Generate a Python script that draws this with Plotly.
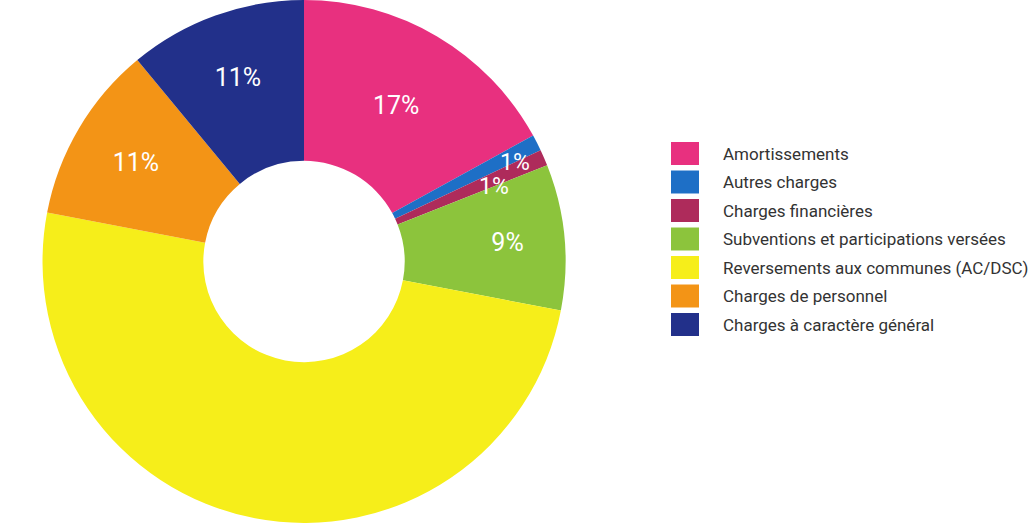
import math
import plotly.graph_objects as go

# Répartition des dépenses (en %)
categories = [
    "Amortissements",
    "Autres charges",
    "Charges financières",
    "Subventions et participations versées",
    "Reversements aux communes (AC/DSC)",
    "Charges de personnel",
    "Charges à caractère général",
]
values = [17, 1, 1, 9, 50, 11, 11]
colors = ["#E8307F", "#1E6FC6", "#AE2B5B", "#8CC43C", "#F6EE1A", "#F39416", "#22308A"]

# labels drawn inside the ring (small slices get annotations instead)
inside_text = [f"{v}%" if 5 <= v < 50 else "" for v in values]

W, H = 1036, 523
cx, cy = 304, 261.5          # pie centre in px
R = H / 2                    # outer radius in px
HOLE = 0.385

fig = go.Figure()
fig.add_trace(go.Pie(
    labels=categories,
    values=values,
    text=inside_text,
    textinfo="text",
    textposition="inside",
    insidetextorientation="horizontal",
    textfont=dict(family="Roboto", size=25, color="white"),
    marker=dict(colors=colors, line=dict(width=0)),
    hole=HOLE,
    sort=False,
    direction="clockwise",
    rotation=0,
    showlegend=False,
    domain=dict(x=[(cx - R) / W, (cx + R) / W], y=[0, 1]),
    hoverinfo="label+percent",
))

# small-slice labels, placed at the end angle of each slice
total = sum(values)
cum = 0
annotations = []
small_radius = {1: 0.89, 2: 0.78}
for i, v in enumerate(values):
    cum += v
    if i in small_radius:
        ang = 2 * math.pi * cum / total
        r = small_radius[i] * R
        px = cx + r * math.sin(ang)
        py = cy - r * math.cos(ang)
        annotations.append(dict(
            x=px / W, y=1 - py / H, xref="paper", yref="paper",
            text=f"{v}%", showarrow=False,
            font=dict(family="Roboto", size=23, color="white"),
            xanchor="center", yanchor="middle",
        ))

# legend: colour swatch + label per category
shapes = []
leg_x0, leg_top, row_h = 671, 153.5, 28.5
sw_w, sw_h = 28, 23
for i, (name, col) in enumerate(zip(categories, colors)):
    yc = leg_top + i * row_h
    shapes.append(dict(
        type="rect", xref="paper", yref="paper",
        x0=leg_x0 / W, x1=(leg_x0 + sw_w) / W,
        y0=1 - (yc + sw_h / 2) / H, y1=1 - (yc - sw_h / 2) / H,
        fillcolor=col, line=dict(width=0),
    ))
    annotations.append(dict(
        x=721 / W, y=1 - yc / H, xref="paper", yref="paper",
        text=name, showarrow=False,
        font=dict(family="Roboto", size=17, color="#333333"),
        xanchor="left", yanchor="middle",
    ))

fig.update_layout(
    width=W, height=H,
    margin=dict(l=0, r=0, t=0, b=0),
    paper_bgcolor="white",
    plot_bgcolor="white",
    annotations=annotations,
    shapes=shapes,
)

fig.write_html("out.html")
